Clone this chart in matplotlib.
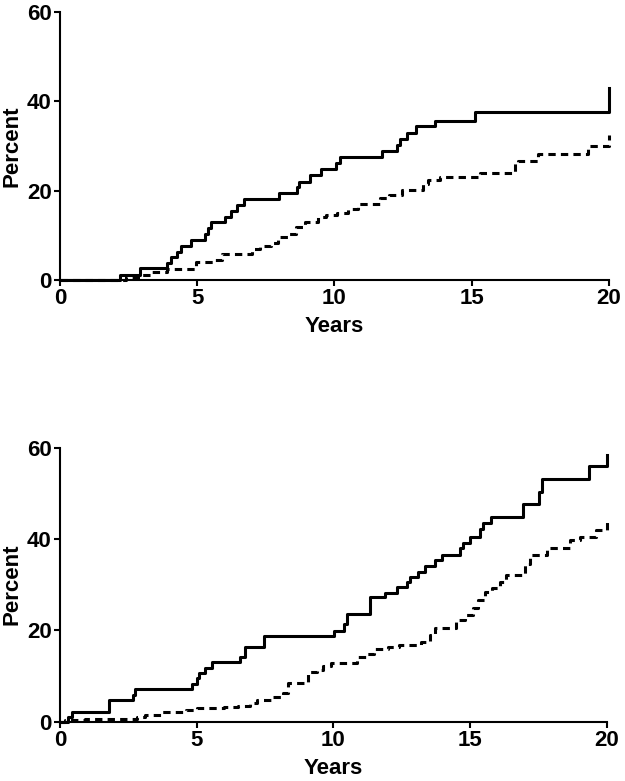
import matplotlib
matplotlib.use("Agg")
import matplotlib.pyplot as plt

plt.rcParams['font.family'] = ['Liberation Sans', 'DejaVu Sans']
plt.rcParams['font.weight'] = 'bold'

# top panel, solid curve: event times (years) and cumulative percent after each step
top_solid_t = [0, 2.19, 2.91, 3.91, 4.05, 4.25, 4.40, 4.78, 5.28, 5.40, 5.50, 6.01, 6.25, 6.44,
               6.72, 7.97, 8.62, 8.72, 9.11, 9.52, 10.07, 10.19, 11.74, 12.27, 12.39, 12.65,
               12.96, 13.68, 15.13, 20.0]
top_solid_y = [0, 1.2, 2.6, 3.7, 5.1, 6.3, 7.6, 9.0, 10.3, 11.6, 12.9, 14.2, 15.4, 16.9,
               18.1, 19.5, 20.9, 22.0, 23.5, 24.8, 26.2, 27.5, 28.8, 30.2, 31.6, 33.0,
               34.4, 35.7, 37.7, 43.1]

# top panel, dashed curve
top_dash_t = [0, 2.4, 2.9, 3.3, 3.9, 4.95, 5.6, 5.9, 6.98, 7.3, 7.7, 7.95, 8.3, 8.6, 8.93,
              9.41, 9.7, 10.1, 10.5, 10.87, 11.66, 12.0, 12.45, 13.24, 13.42, 13.84, 15.3,
              16.57, 16.7, 17.42, 19.25, 20.0]
top_dash_y = [0, 0.6, 1.2, 1.8, 2.4, 4.0, 4.5, 5.8, 6.9, 7.6, 8.2, 9.6, 10.4, 11.9, 13.1,
              14.2, 14.6, 14.9, 16.0, 17.0, 18.3, 19.0, 20.1, 21.6, 22.4, 23.1, 24.0,
              26.1, 26.7, 28.2, 29.9, 32.5]

# bottom panel, solid curve
bot_solid_t = [0, 0.30, 0.43, 1.80, 2.68, 2.75, 4.81, 5.0, 5.09, 5.30, 5.55, 6.6, 6.76, 7.47,
               10.03, 10.4, 10.5, 11.34, 11.88, 12.31, 12.68, 12.80, 13.1, 13.35, 13.71,
               13.96, 14.63, 14.75, 15.0, 15.36, 15.48, 15.78, 16.94, 17.53, 17.61, 19.36, 20.0]
bot_solid_y = [0, 1.1, 2.2, 4.7, 5.9, 7.1, 8.2, 9.5, 10.6, 11.8, 13.1, 14.2, 16.4, 18.7,
               19.9, 21.3, 23.5, 27.2, 28.2, 29.5, 30.6, 31.7, 32.8, 34.0, 35.3,
               36.4, 37.9, 39.1, 40.5, 42.1, 43.4, 44.8, 47.6, 50.3, 53.0, 55.9, 58.3]

# bottom panel, dashed curve
bot_dash_t = [0, 0.2, 0.9, 2.8, 3.1, 3.72, 4.6, 5.0, 6.0, 6.5, 6.95, 7.2, 7.8, 8.16, 8.35,
              9.08, 9.4, 9.6, 9.9, 10.87, 11.2, 11.5, 12.0, 12.4, 13.2, 13.53, 13.7, 14.5,
              14.8, 15.1, 15.3, 15.55, 15.8, 16.1, 16.3, 17.0, 17.2, 17.8, 18.65, 19.0,
              19.6, 20.0]
bot_dash_y = [0, 0.3, 0.5, 0.95, 1.5, 2.2, 2.55, 2.9, 3.3, 3.4, 4.0, 4.7, 5.5, 6.3, 8.4,
              10.9, 11.3, 12.2, 12.8, 14.2, 14.9, 15.8, 16.3, 16.8, 17.5, 19.0, 20.4, 22.2,
              23.3, 24.8, 26.6, 28.4, 29.2, 30.6, 32.1, 34.6, 36.4, 37.9, 39.7, 40.5,
              41.9, 43.7]

x_ticks = [0, 5, 10, 15, 20]
y_ticks = [0, 20, 40, 60]


def draw_panel(ax, solid_t, solid_y, dash_t, dash_y):
    ax.step(solid_t, solid_y, where='post', color='black', lw=2.2, clip_on=False)
    ax.step(dash_t, dash_y, where='post', color='black', lw=2.2,
            dashes=(2.4, 1.7), clip_on=False)
    ax.set_xlim(0, 20)
    ax.set_ylim(0, 60)
    ax.set_xticks(x_ticks)
    ax.set_yticks(y_ticks)
    for side in ['top', 'right']:
        ax.spines[side].set_visible(False)
    for side in ['left', 'bottom']:
        ax.spines[side].set_linewidth(1.5)
    ax.tick_params(direction='out', length=4, width=1.5, labelsize=16, pad=2)
    ax.set_xlabel('Years', fontsize=16, fontweight='bold', labelpad=5)
    ax.set_ylabel('Percent', fontsize=16, fontweight='bold', labelpad=3)


fig = plt.figure(figsize=(6.25, 7.81), dpi=100)
ax1 = fig.add_axes([0.096, 0.6415, 0.878, 0.343])
ax2 = fig.add_axes([0.096, 0.076, 0.875, 0.351])

draw_panel(ax1, top_solid_t, top_solid_y, top_dash_t, top_dash_y)
draw_panel(ax2, bot_solid_t, bot_solid_y, bot_dash_t, bot_dash_y)

fig.savefig('out.png', dpi=100)
